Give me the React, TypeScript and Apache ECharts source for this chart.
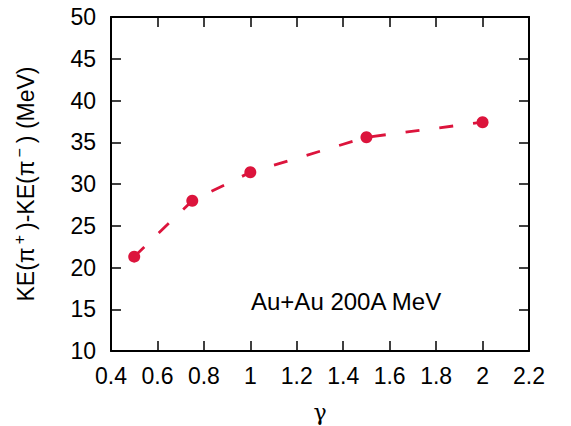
import React, { useEffect, useRef } from "react";
import * as echarts from "echarts";

const gammaValues = [0.5, 0.75, 1.0, 1.5, 2.0];
const keDiff = [21.3, 28.0, 31.4, 35.6, 37.4];
const xTicks = { min: 0.4, max: 2.2, interval: 0.2 };
const yTicks = { min: 10, max: 50, interval: 5 };
const annotation = "Au+Au 200A MeV";
const xName = "γ";

const RED = "#dc143c";
const FONT = "Liberation Sans, Arial, Helvetica, sans-serif";

export default function App() {
  const ref = useRef<HTMLDivElement>(null);
  useEffect(() => {
    document.body.style.margin = "0";
    const chart = echarts.init(ref.current!, null, { renderer: "svg" });
    const axisLine = { show: true, lineStyle: { color: "#000", width: 2 } };
    const tick = { show: true, inside: true, length: 10, lineStyle: { color: "#000", width: 1.5 } };
    const fmt = (v: number) => String(+v.toFixed(1));
    chart.setOption({
      animation: false,
      backgroundColor: "#fff",
      textStyle: { fontFamily: FONT },
      grid: {
        left: 111,
        right: 42,
        top: 17,
        bottom: 75,
        containLabel: false,
        outerBoundsMode: "none",
      },
      xAxis: [
        {
          type: "value",
          ...xTicks,
          position: "bottom",
          axisLine,
          axisTick: tick,
          splitLine: { show: false },
          axisLabel: { color: "#000", fontSize: 23, margin: 13, formatter: fmt, fontFamily: FONT },
          name: xName,
          nameLocation: "middle",
          nameGap: 51,
          nameTextStyle: {
            color: "#000",
            fontSize: 22,
            lineHeight: 20,
            fontFamily: "DejaVu Serif, serif",
          },
        },
        {
          type: "value",
          ...xTicks,
          position: "top",
          axisLine,
          axisTick: tick,
          splitLine: { show: false },
          axisLabel: { show: false },
        },
      ],
      yAxis: [
        {
          type: "value",
          ...yTicks,
          position: "left",
          axisLine,
          axisTick: tick,
          splitLine: { show: false },
          axisLabel: { color: "#000", fontSize: 23, margin: 15, fontFamily: FONT },
          name: "KE(π{sup|+})-KE(π{sup|−}) (MeV)",
          nameLocation: "middle",
          nameGap: 70,
          nameRotate: 90,
          nameTextStyle: {
            color: "#000",
            fontSize: 23,
            fontFamily: FONT,
            rich: {
              sup: { fontSize: 16, verticalAlign: "top", padding: [0, 5, 14, 3], color: "#000" },
            },
          },
        },
        {
          type: "value",
          ...yTicks,
          position: "right",
          axisLine,
          axisTick: tick,
          splitLine: { show: false },
          axisLabel: { show: false },
        },
      ],
      series: [
        {
          type: "line",
          data: gammaValues.map((g, i) => [g, keDiff[i]]),
          smooth: false,
          symbol: "circle",
          symbolSize: 12,
          itemStyle: { color: RED },
          lineStyle: { color: RED, width: 2.8, type: [14, 20] },
        },
      ],
      graphic: [
        {
          type: "text",
          left: 251,
          top: 289,
          style: { text: annotation, fill: "#000", font: `24px ${FONT}` },
        },
      ],
    });
    return () => chart.dispose();
  }, []);
  return <div ref={ref} style={{ width: 571, height: 426 }} />;
}
